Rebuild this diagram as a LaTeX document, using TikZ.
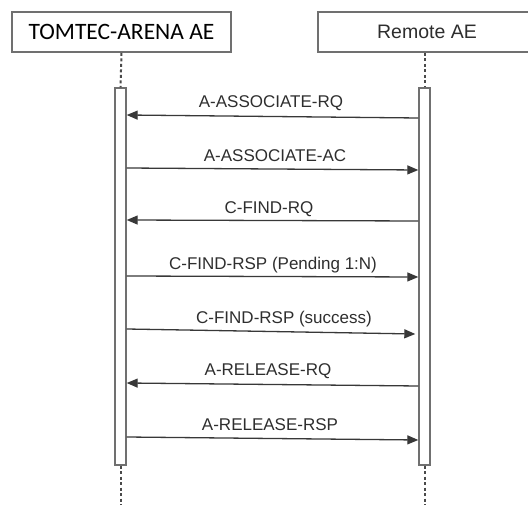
\documentclass[tikz,border=0pt]{standalone}
\usepackage{fontspec}
\setmainfont{Liberation Sans}
\newfontfamily\carl{Carlito}
\newfontfamily\arialx{Liberation Sans}
\usetikzlibrary{arrows.meta}
\definecolor{boxc}{HTML}{707070}
\definecolor{lifec}{HTML}{4A4A4A}
\definecolor{linec}{HTML}{383838}
\definecolor{txtc}{HTML}{2E2E2E}
\tikzset{
  hdr/.style={draw=boxc, line width=1.6pt, fill=white, minimum height=40pt, inner sep=0pt},
  actbar/.style={draw=boxc, line width=1.4pt, fill=white, minimum width=11pt, minimum height=377pt, inner sep=0pt},
  lifeline/.style={draw=lifec, line width=2pt, dash pattern=on 3pt off 2.5pt},
  msg/.style={draw=linec, line width=1.3pt, -{Triangle[length=11pt,width=9pt]}},
  lbl/.style={anchor=base, text=txtc, font=\arialx\fontsize{17}{19}\selectfont, inner sep=0pt}
}
\begin{document}
\begin{tikzpicture}[x=1pt,y=-1pt]
\useasboundingbox (0,0) rectangle (528,505);
\clip (0,0) rectangle (528,505);
\node[hdr, minimum width=219pt, font=\carl\fontsize{23.5}{26}\selectfont] (tomtec) at (121.5,32) {TOMTEC-ARENA AE};
\node[hdr, minimum width=218pt, text=txtc, font=\arialx\fontsize{19.5}{22}\selectfont] (remote) at (427,32) {Remote AE};
\node[actbar] (lbar) at (120.5,276.5) {};
\node[actbar] (rbar) at (424.5,276.5) {};
\coordinate (lend) at (120.5,505);
\coordinate (rend) at (424.5,505);
\draw[lifeline] (tomtec.south) -- (lbar.north);
\draw[lifeline] (remote.south -| rbar.north) -- (rbar.north);
\draw[lifeline] (lbar.south) -- (lend);
\draw[lifeline] (rbar.south) -- (rend);
% messages
\draw[msg] (rbar.west |- {(0,118)}) -- (lbar.east |- {(0,115)});
\node[lbl] (m1) at (271,108) {A-ASSOCIATE-RQ};
\draw[msg] (lbar.east |- {(0,168)}) -- (rbar.west |- {(0,170)});
\node[lbl] (m2) at (275,162) {A-ASSOCIATE-AC};
\draw[msg] (rbar.west |- {(0,221)}) -- (lbar.east |- {(0,220)});
\node[lbl] (m3) at (269,214) {C-FIND-RQ};
\draw[msg] (lbar.east |- {(0,276)}) -- (rbar.west |- {(0,277)});
\node[lbl] (m4) at (273,270) {C-FIND-RSP (Pending 1:N)};
\draw[msg] (lbar.east |- {(0,329)}) -- ([xshift=-3pt]rbar.west |- {(0,334)});
\node[lbl] (m5) at (284,324) {C-FIND-RSP (success)};
\draw[msg] (rbar.west |- {(0,386)}) -- (lbar.east |- {(0,383)});
\node[lbl] (m6) at (268,375) {A-RELEASE-RQ};
\draw[msg] (lbar.east |- {(0,437)}) -- (rbar.west |- {(0,440)});
\node[lbl] (m7) at (270,430) {A-RELEASE-RSP};
\end{tikzpicture}
\end{document}
